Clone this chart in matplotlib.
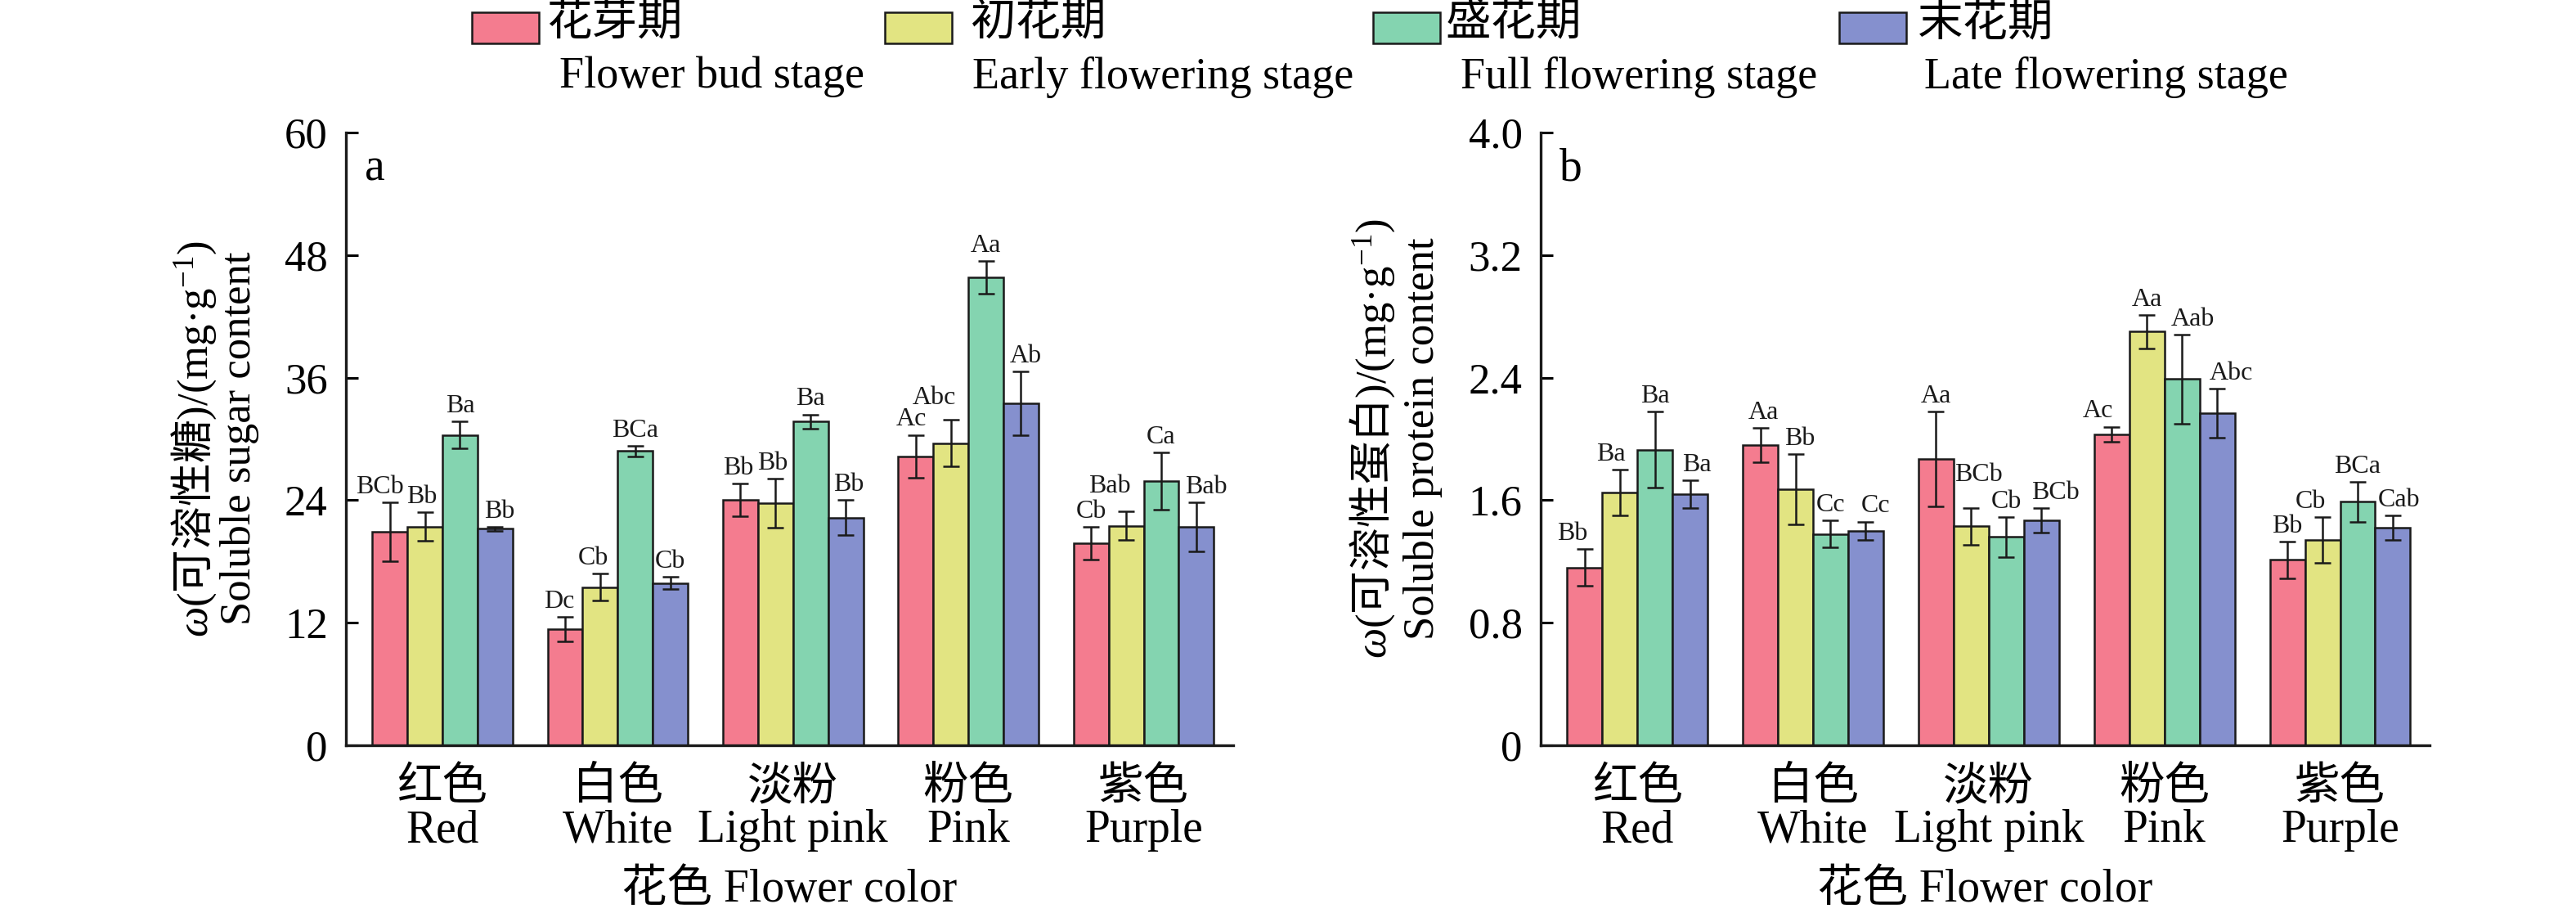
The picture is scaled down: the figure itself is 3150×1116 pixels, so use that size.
import numpy as np
import matplotlib
matplotlib.use('Agg')
import matplotlib.pyplot as plt
from matplotlib.patches import Rectangle

SERIF = 'Liberation Serif'
CJK = 'Noto Sans CJK SC'
MIX = [SERIF, CJK, 'DejaVu Sans']

plt.rcParams['font.family'] = MIX
plt.rcParams['mathtext.fontset'] = 'custom'
plt.rcParams['mathtext.it'] = SERIF + ':italic'
plt.rcParams['mathtext.rm'] = CJK
plt.rcParams['mathtext.default'] = 'regular'

# 数据
stages_cn = ['花芽期', '初花期', '盛花期', '末花期']
stages_en = ['Flower bud stage', 'Early flowering stage', 'Full flowering stage', 'Late flowering stage']
bar_colors = ['#F47C8F', '#E2E482', '#84D4B0', '#8590CE']
flower_cn = ['红色', '白色', '淡粉', '粉色', '紫色']
flower_en = ['Red', 'White', 'Light pink', 'Pink', 'Purple']

sugar_bud = [20.9, 11.4, 24.0, 28.3, 19.8]
sugar_early = [21.4, 15.5, 23.7, 29.6, 21.5]
sugar_full = [30.4, 28.8, 31.7, 45.8, 25.9]
sugar_late = [21.2, 15.9, 22.3, 33.5, 21.4]
sugar_err_bud = [2.9, 1.2, 1.6, 2.1, 1.6]
sugar_err_early = [1.4, 1.3, 2.4, 2.3, 1.4]
sugar_err_full = [1.3, 0.5, 0.7, 1.6, 2.8]
sugar_err_late = [0.2, 0.6, 1.7, 3.1, 2.4]
sugar_sig_bud = ['BCb', 'Dc', 'Bb', 'Ac', 'Cb']
sugar_sig_early = ['Bb', 'Cb', 'Bb', 'Abc', 'Bab']
sugar_sig_full = ['Ba', 'BCa', 'Ba', 'Aa', 'Ca']
sugar_sig_late = ['Bb', 'Cb', 'Bb', 'Ab', 'Bab']

protein_bud = [1.16, 1.96, 1.87, 2.03, 1.21]
protein_early = [1.65, 1.67, 1.43, 2.70, 1.34]
protein_full = [1.93, 1.38, 1.36, 2.39, 1.59]
protein_late = [1.64, 1.40, 1.47, 2.17, 1.42]
protein_err_bud = [0.12, 0.11, 0.31, 0.05, 0.12]
protein_err_early = [0.15, 0.23, 0.12, 0.11, 0.15]
protein_err_full = [0.25, 0.09, 0.13, 0.29, 0.13]
protein_err_late = [0.09, 0.06, 0.08, 0.16, 0.08]
protein_sig_bud = ['Bb', 'Aa', 'Aa', 'Ac', 'Bb']
protein_sig_early = ['Ba', 'Bb', 'BCb', 'Aa', 'Cb']
protein_sig_full = ['Ba', 'Cc', 'Cb', 'Aab', 'BCa']
protein_sig_late = ['Ba', 'Cc', 'BCb', 'Abc', 'Cab']

sugar = [sugar_bud, sugar_early, sugar_full, sugar_late]
sugar_err = [sugar_err_bud, sugar_err_early, sugar_err_full, sugar_err_late]
sugar_sig = [sugar_sig_bud, sugar_sig_early, sugar_sig_full, sugar_sig_late]
protein = [protein_bud, protein_early, protein_full, protein_late]
protein_err = [protein_err_bud, protein_err_early, protein_err_full, protein_err_late]
protein_sig = [protein_sig_bud, protein_sig_early, protein_sig_full, protein_sig_late]

# 标注字母的微调 (像素, dx, dy), 避免重叠
nudge_a = [[(-12, 0), (-7, 0), (-3, 0), (-5, 0), (0, 0)],
           [(-4, 0), (-8, 0), (-4, 0), (-20, 8), (-20, 12)],
           [(0, 0), (0, 0), (0, 0), (0, 0), (0, 0)],
           [(5, 0), (0, 0), (4, 0), (6, 0), (12, 0)]]
nudge_b = [[(-15, 0), (4, 0), (0, 0), (-17, 0), (0, 0)],
           [(-11, 0), (5, 0), (9, 22), (0, 0), (-15, 0)],
           [(0, 0), (0, 0), (0, 0), (13, 0), (0, 0)],
           [(8, 0), (12, 0), (17, 0), (17, 0), (8, 0)]]

fig = plt.figure(figsize=(31.5, 11.16), dpi=100)
ax_a = fig.add_axes([0.1343, 0.1837, 0.3444, 0.6711])
ax_b = fig.add_axes([0.5981, 0.1837, 0.3451, 0.6711])

x = np.arange(len(flower_cn))
w = 0.2
TICK = 38
XT = 40
PX = 72 / 100  # 像素 -> 点


def draw(ax, vals, errs, sigs, nudges, ylim, yticks, ylabels, letter):
    for i in range(4):
        pos = x + (i - 1.5) * w
        ax.bar(pos, vals[i], w, color=bar_colors[i], edgecolor='#1a1a1a', linewidth=1.8,
               yerr=errs[i], error_kw=dict(ecolor='#1a1a1a', elinewidth=1.8, capsize=7, capthick=1.8),
               zorder=2)
        for p, v, e, s, (dx, dy) in zip(pos, vals[i], errs[i], sigs[i], nudges[i]):
            ax.annotate(s, xy=(p, v + e), xytext=(dx * PX, 3 + dy * PX), textcoords='offset points',
                        ha='center', va='bottom', fontsize=23, family=SERIF, color='#1a1a1a')
    ax.set_xlim(-0.55, 4.51)
    ax.set_ylim(*ylim)
    ax.set_yticks(yticks)
    ax.set_yticklabels(ylabels, family=SERIF, fontsize=TICK)
    ax.set_xticks(x)
    ax.set_xticklabels([c + '\n' + e for c, e in zip(flower_cn, flower_en)],
                       fontsize=XT, linespacing=1.0)
    ax.tick_params(axis='x', length=0, pad=19)
    ax.tick_params(axis='y', direction='in', length=11, width=2.2, pad=16)
    for sp in ['top', 'right']:
        ax.spines[sp].set_visible(False)
    for sp in ['left', 'bottom']:
        ax.spines[sp].set_linewidth(2.4)
        ax.spines[sp].set_color('#1a1a1a')
    ax.text(0.021, 0.922, letter, transform=ax.transAxes, fontsize=40, family=SERIF,
            ha='left', va='baseline')
    pos_ax = ax.get_position()
    fig.text((pos_ax.x0 + pos_ax.x1) / 2, 0.025, '花色 Flower color', fontsize=XT,
             ha='center', va='center')


draw(ax_a, sugar, sugar_err, sugar_sig, nudge_a, (0, 60), np.arange(0, 61, 12),
     ['0', '12', '24', '36', '48', '60'], 'a')
draw(ax_b, protein, protein_err, protein_sig, nudge_b, (0, 4.0), np.arange(0, 4.01, 0.8),
     ['0', '0.8', '1.6', '2.4', '3.2', '4.0'], 'b')

ymid = 1 - 536 / 1116
fig.text(0.0752, ymid, r'$\mathit{\omega}$($\mathrm{可溶性糖}$)/(mg·g$^{-1}$)',
         rotation=90, ha='center', va='center', fontsize=TICK)
fig.text(0.0930, ymid, 'Soluble sugar content', rotation=90, ha='center', va='center',
         fontsize=TICK, family=SERIF)
fig.text(0.5327, ymid, r'$\mathit{\omega}$($\mathrm{可溶性蛋白}$)/(mg·g$^{-1}$)',
         rotation=90, ha='center', va='center', fontsize=TICK)
fig.text(0.5524, ymid, 'Soluble protein content', rotation=90, ha='center', va='center',
         fontsize=TICK, family=SERIF)

# 图例
patch_x = [577, 1082, 1679, 2249]
cn_x = [668, 1186, 1768, 2345]
en_x = [684, 1189, 1786, 2353]
for i in range(4):
    fig.patches.append(Rectangle((patch_x[i] / 3150, 1 - 53 / 1116), 82 / 3150, 38 / 1116,
                                 transform=fig.transFigure, facecolor=bar_colors[i],
                                 edgecolor='#1a1a1a', linewidth=1.8))
    fig.text(cn_x[i] / 3150, 1 - 30 / 1116, stages_cn[i], fontsize=XT, ha='left', va='center')
    fig.text(en_x[i] / 3150, 1 - 94 / 1116, stages_en[i], fontsize=39, ha='left', va='center',
             family=SERIF)

fig.savefig('out.png', dpi=100)
